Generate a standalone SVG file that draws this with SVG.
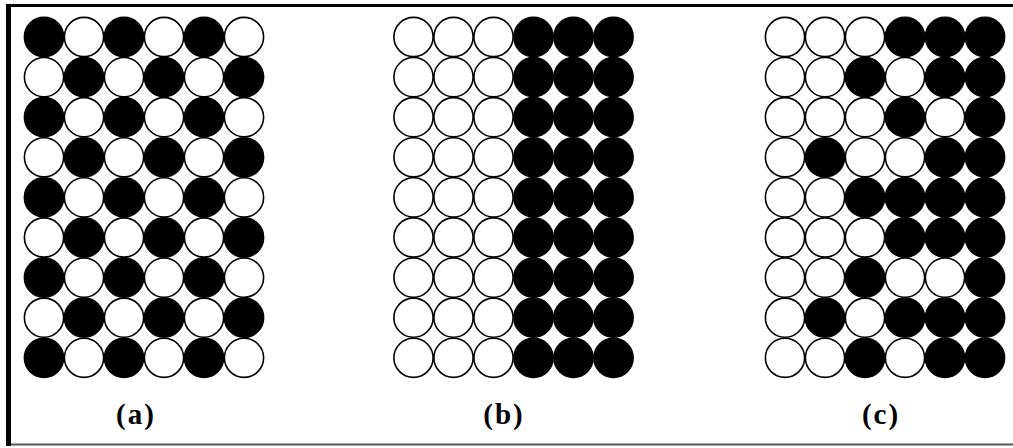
<svg xmlns="http://www.w3.org/2000/svg" width="1013" height="448" viewBox="0 0 1013 448">
  <style>
    .w { fill: #fff; stroke: #000; stroke-width: 1.6; }
    .b { fill: #000; stroke: #000; stroke-width: 1.6; }
    .lbl { font-family: "Liberation Serif", serif; font-weight: bold; font-size: 29px; letter-spacing: 2px; fill: #000; text-anchor: middle; }
  </style>
  <defs>
    <circle id="wc" r="19.6" class="w"/>
    <circle id="bc" r="19.6" class="b"/>
  </defs>
  <rect width="1013" height="448" fill="#fff"/>
  <!-- frame -->
  <line x1="6" y1="5.5" x2="1013" y2="5.5" stroke="#000" stroke-width="3"/>
  <line x1="8.5" y1="4" x2="8.5" y2="446" stroke="#000" stroke-width="5"/>
  <line x1="11" y1="444.5" x2="1013" y2="444.5" stroke="#555" stroke-width="2"/>

  <!-- (a) checkerboard -->
  <g id="grid-a" transform="translate(44,37)">
    <g><use href="#bc" x="0" y="0"/><use href="#wc" x="40" y="0"/><use href="#bc" x="80" y="0"/><use href="#wc" x="120" y="0"/><use href="#bc" x="160" y="0"/><use href="#wc" x="200" y="0"/></g>
    <g transform="translate(0,40.1)"><use href="#wc" x="0"/><use href="#bc" x="40"/><use href="#wc" x="80"/><use href="#bc" x="120"/><use href="#wc" x="160"/><use href="#bc" x="200"/></g>
    <g transform="translate(0,80.2)"><use href="#bc" x="0"/><use href="#wc" x="40"/><use href="#bc" x="80"/><use href="#wc" x="120"/><use href="#bc" x="160"/><use href="#wc" x="200"/></g>
    <g transform="translate(0,120.3)"><use href="#wc" x="0"/><use href="#bc" x="40"/><use href="#wc" x="80"/><use href="#bc" x="120"/><use href="#wc" x="160"/><use href="#bc" x="200"/></g>
    <g transform="translate(0,160.4)"><use href="#bc" x="0"/><use href="#wc" x="40"/><use href="#bc" x="80"/><use href="#wc" x="120"/><use href="#bc" x="160"/><use href="#wc" x="200"/></g>
    <g transform="translate(0,200.5)"><use href="#wc" x="0"/><use href="#bc" x="40"/><use href="#wc" x="80"/><use href="#bc" x="120"/><use href="#wc" x="160"/><use href="#bc" x="200"/></g>
    <g transform="translate(0,240.6)"><use href="#bc" x="0"/><use href="#wc" x="40"/><use href="#bc" x="80"/><use href="#wc" x="120"/><use href="#bc" x="160"/><use href="#wc" x="200"/></g>
    <g transform="translate(0,280.7)"><use href="#wc" x="0"/><use href="#bc" x="40"/><use href="#wc" x="80"/><use href="#bc" x="120"/><use href="#wc" x="160"/><use href="#bc" x="200"/></g>
    <g transform="translate(0,320.8)"><use href="#bc" x="0"/><use href="#wc" x="40"/><use href="#bc" x="80"/><use href="#wc" x="120"/><use href="#bc" x="160"/><use href="#wc" x="200"/></g>
  </g>

  <!-- (b) split: three white columns, three black columns -->
  <g id="grid-b" transform="translate(413.5,37)">
    <g><use href="#wc" x="0"/><use href="#wc" x="40"/><use href="#wc" x="80"/><use href="#bc" x="120"/><use href="#bc" x="160"/><use href="#bc" x="200"/></g>
    <g transform="translate(0,40.1)"><use href="#wc" x="0"/><use href="#wc" x="40"/><use href="#wc" x="80"/><use href="#bc" x="120"/><use href="#bc" x="160"/><use href="#bc" x="200"/></g>
    <g transform="translate(0,80.2)"><use href="#wc" x="0"/><use href="#wc" x="40"/><use href="#wc" x="80"/><use href="#bc" x="120"/><use href="#bc" x="160"/><use href="#bc" x="200"/></g>
    <g transform="translate(0,120.3)"><use href="#wc" x="0"/><use href="#wc" x="40"/><use href="#wc" x="80"/><use href="#bc" x="120"/><use href="#bc" x="160"/><use href="#bc" x="200"/></g>
    <g transform="translate(0,160.4)"><use href="#wc" x="0"/><use href="#wc" x="40"/><use href="#wc" x="80"/><use href="#bc" x="120"/><use href="#bc" x="160"/><use href="#bc" x="200"/></g>
    <g transform="translate(0,200.5)"><use href="#wc" x="0"/><use href="#wc" x="40"/><use href="#wc" x="80"/><use href="#bc" x="120"/><use href="#bc" x="160"/><use href="#bc" x="200"/></g>
    <g transform="translate(0,240.6)"><use href="#wc" x="0"/><use href="#wc" x="40"/><use href="#wc" x="80"/><use href="#bc" x="120"/><use href="#bc" x="160"/><use href="#bc" x="200"/></g>
    <g transform="translate(0,280.7)"><use href="#wc" x="0"/><use href="#wc" x="40"/><use href="#wc" x="80"/><use href="#bc" x="120"/><use href="#bc" x="160"/><use href="#bc" x="200"/></g>
    <g transform="translate(0,320.8)"><use href="#wc" x="0"/><use href="#wc" x="40"/><use href="#wc" x="80"/><use href="#bc" x="120"/><use href="#bc" x="160"/><use href="#bc" x="200"/></g>
  </g>

  <!-- (c) mixed pattern -->
  <g id="grid-c" transform="translate(785,37)">
    <g><use href="#wc" x="0"/><use href="#wc" x="40"/><use href="#wc" x="80"/><use href="#bc" x="120"/><use href="#bc" x="160"/><use href="#bc" x="200"/></g>
    <g transform="translate(0,40.1)"><use href="#wc" x="0"/><use href="#wc" x="40"/><use href="#bc" x="80"/><use href="#wc" x="120"/><use href="#bc" x="160"/><use href="#bc" x="200"/></g>
    <g transform="translate(0,80.2)"><use href="#wc" x="0"/><use href="#wc" x="40"/><use href="#wc" x="80"/><use href="#bc" x="120"/><use href="#wc" x="160"/><use href="#bc" x="200"/></g>
    <g transform="translate(0,120.3)"><use href="#wc" x="0"/><use href="#bc" x="40"/><use href="#wc" x="80"/><use href="#wc" x="120"/><use href="#bc" x="160"/><use href="#bc" x="200"/></g>
    <g transform="translate(0,160.4)"><use href="#wc" x="0"/><use href="#wc" x="40"/><use href="#bc" x="80"/><use href="#bc" x="120"/><use href="#bc" x="160"/><use href="#bc" x="200"/></g>
    <g transform="translate(0,200.5)"><use href="#wc" x="0"/><use href="#wc" x="40"/><use href="#wc" x="80"/><use href="#bc" x="120"/><use href="#bc" x="160"/><use href="#bc" x="200"/></g>
    <g transform="translate(0,240.6)"><use href="#wc" x="0"/><use href="#wc" x="40"/><use href="#bc" x="80"/><use href="#wc" x="120"/><use href="#wc" x="160"/><use href="#bc" x="200"/></g>
    <g transform="translate(0,280.7)"><use href="#wc" x="0"/><use href="#bc" x="40"/><use href="#wc" x="80"/><use href="#bc" x="120"/><use href="#bc" x="160"/><use href="#bc" x="200"/></g>
    <g transform="translate(0,320.8)"><use href="#wc" x="0"/><use href="#wc" x="40"/><use href="#bc" x="80"/><use href="#wc" x="120"/><use href="#bc" x="160"/><use href="#bc" x="200"/></g>
  </g>

  <g id="labels">
    <text class="lbl" x="136" y="424">(a)</text>
    <text class="lbl" x="504" y="424">(b)</text>
    <text class="lbl" x="881" y="424">(c)</text>
  </g>
</svg>
